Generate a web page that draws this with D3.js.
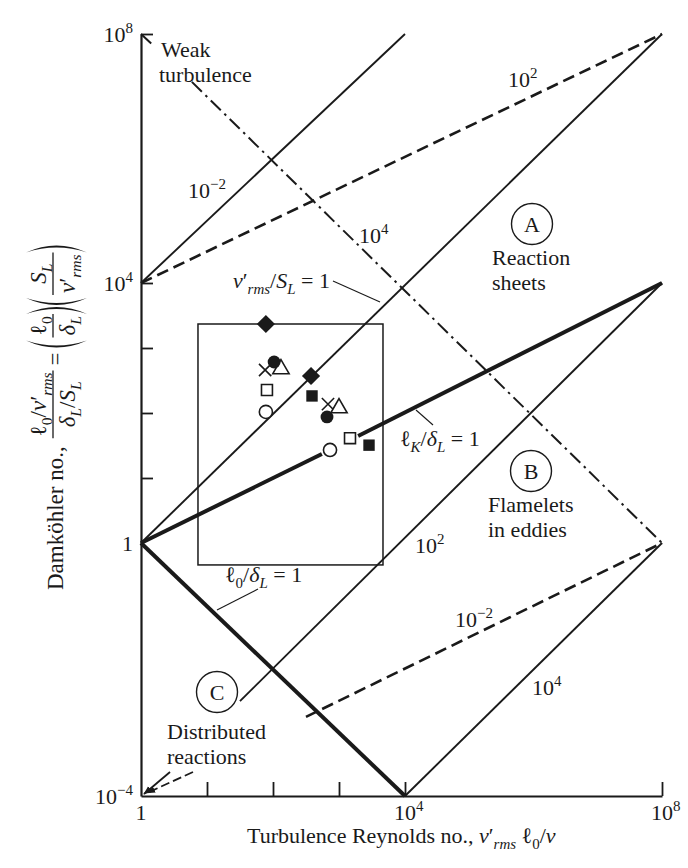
<!DOCTYPE html>
<html><head><meta charset="utf-8">
<script src="https://cdn.jsdelivr.net/npm/d3@7"></script>
<style>
html,body{margin:0;padding:0;background:#fff;}
svg{display:block;}
svg text{font-family:"Liberation Serif","DejaVu Serif","Times New Roman",serif;}
</style></head>
<body>
<svg id="chart" width="688" height="868"></svg>
<script>
// ---------------- DATA ----------------
// axis ticks and tick labels
const xTickValues = [10, 100, 1000, 1e4, 1e8];
const yTickValues = [10, 100, 1000, 1e4, 1e8];
const xLabelValues = [1, 1e4, 1e8];
const xLabelExps = ["", "4", "8"];
const yLabelValues = [1e-4, 1, 1e4, 1e8];
const yLabelExps = ["\u22124", "", "4", "8"];

// regime lines, endpoints as [Re, Da]
// thin solid: v'/SL = 1e-2, 1, 1e2, 1e4
const solidThinSegments = [
  [[1, 1e4], [1e4, 1e8]],
  [[1, 1], [1e8, 1e8]],
  [[31.6, 3.16e-3], [1e8, 1e4]],
  [[1e4, 1e-4], [1e8, 1]]
];
// thick solid: l0/dL = 1 and lK/dL = 1 (broken at the data points)
const thickSegments = [
  [[1, 1], [1e4, 1e-4]],
  [[1, 1], [550, 23.4]],
  [[1950, 44.2], [1e8, 1e4]]
];
// dashed: lK/dL = 1e2 and 1e-2
const dashedSegments = [
  [[1, 1e4], [1e8, 1e8]],
  [[316, 1.78e-3], [1e8, 1]]
];
// dash-dot: l0/dL = 1e4 (interrupted by the "Weak turbulence" label)
const dashDotSegments = [
  [[1, 1e8], [1.45, 6.9e7]],
  [[5.9, 1.7e7], [1e8, 1]]
];
// experimental range box
const boxRe = [7.3, 4640];
const boxDa = [0.45, 2340];

// experimental points
const markerRe = [78, 377, 76, 681, 132, 1000, 104, 658, 81, 1468, 78, 731, 390, 2850];
const markerDa = [2340, 371, 459, 137, 475, 119, 609, 87, 226, 41, 104, 27, 183, 32];
const markerShape = ["diamondFilled","diamondFilled","cross","cross","triangleOpen","triangleOpen",
  "circleFilled","circleFilled","squareOpen","squareOpen","circleOpen","circleOpen","squareFilled","squareFilled"];

// ---------------- CHART ----------------
const svg = d3.select("#chart")
  .style("font-family", "'Liberation Serif','Times New Roman',serif")
  .attr("fill", "#1a1a1a");

const x = d3.scaleLog().domain([1, 1e4, 1e8]).range([141, 405, 662]);
const y = d3.scaleLog().domain([1e-4, 1, 1e4, 1e8]).range([796, 543, 283, 34]);
const ink = "#1a1a1a";

function richText(parent, px, py, parts, size, anchor) {
  const t = parent.append("text").attr("x", px).attr("y", py)
    .attr("font-size", size).attr("text-anchor", anchor || "start").attr("fill", ink);
  let cur = 0;
  parts.forEach(p => {
    const shift = p.sub ? 0.26 * size : (p.sup ? -0.42 * size : 0);
    const ts = t.append("tspan").text(p.t).attr("dy", (shift - cur).toFixed(2));
    cur = shift;
    if (p.sub || p.sup) ts.attr("font-size", (size * 0.68).toFixed(1));
    if (p.it) ts.attr("font-style", "italic");
  });
  return t;
}
const N = t => ({t});
const I = t => ({t, it: true});
const SB = (t, it) => ({t, sub: true, it: !!it});
const SP = t => ({t, sup: true});

// box
svg.append("rect")
  .attr("x", x(boxRe[0])).attr("y", y(boxDa[1]))
  .attr("width", x(boxRe[1]) - x(boxRe[0])).attr("height", y(boxDa[0]) - y(boxDa[1]))
  .attr("fill", "none").attr("stroke", ink).attr("stroke-width", 1.5);

const line = d3.line().x(d => x(d[0])).y(d => y(d[1]));
function drawSegs(segs, width, dash) {
  svg.append("g").selectAll("path").data(segs).join("path")
    .attr("d", line).attr("fill", "none").attr("stroke", ink)
    .attr("stroke-width", width).attr("stroke-dasharray", dash || null);
}
drawSegs(solidThinSegments, 1.9);
drawSegs(thickSegments, 4);
drawSegs(dashedSegments, 2.6, "12,6");
drawSegs(dashDotSegments, 2, "14,5,2.5,5");

// axes
const gx = svg.append("g").attr("transform", `translate(0,${y(1e-4)})`)
  .call(d3.axisBottom(x).tickValues(xTickValues).tickSize(-14).tickSizeOuter(0).tickFormat(""));
const gy = svg.append("g").attr("transform", `translate(${x(1)},0)`)
  .call(d3.axisLeft(y).tickValues(yTickValues).tickSize(-12).tickSizeOuter(0).tickFormat(""));
[gx, gy].forEach(g => {
  g.select(".domain").attr("stroke", ink).attr("stroke-width", 2.2);
  g.selectAll(".tick line").attr("stroke", ink).attr("stroke-width", 1.8);
});

// tick labels
xLabelValues.forEach((v, i) => {
  const parts = xLabelExps[i] ? [N("10"), SP(xLabelExps[i])] : [N("1")];
  const half = xLabelExps[i] ? 11 : 0;
  richText(svg, x(v) - half, 820, parts, 22, xLabelExps[i] ? "start" : "middle");
});
yLabelValues.forEach((v, i) => {
  const parts = yLabelExps[i] ? [N("10"), SP(yLabelExps[i])] : [N("1")];
  richText(svg, 133, y(v) + 8, parts, 22, "end");
});

// x axis title
richText(svg, 247, 843, [N("Turbulence Reynolds no., "), I("v"), N("\u2032"), SB("rms", true),
  N(" \u2113"), SB("0"), N("/"), I("\u03bd")], 22, "start");

// y axis title (rotated)
const gl = svg.append("g").attr("transform", "translate(63,590) rotate(-90)");
const YS = 23;
let cx = 0;
const t1 = richText(gl, 0, 0, [N("Damk\u00f6hler no.,")], YS, "start");
cx += t1.node().getComputedTextLength() + 8;
function frac(numParts, denParts) {
  const n = richText(gl, 0, -17, numParts, YS, "middle");
  const d = richText(gl, 0, 12, denParts, YS, "middle");
  const w = Math.max(n.node().getComputedTextLength(), d.node().getComputedTextLength()) + 4;
  n.attr("x", cx + w / 2); d.attr("x", cx + w / 2);
  gl.append("line").attr("x1", cx).attr("x2", cx + w).attr("y1", -10).attr("y2", -10)
    .attr("stroke", ink).attr("stroke-width", 1.3);
  cx += w;
}
function paren(open) {
  const top = -37, bot = 24, mid = (top + bot) / 2, w = 7;
  const ex = open ? cx + w : cx, c1 = open ? cx - w : cx + 2 * w, c2 = open ? cx - w + 4 : cx + 2 * w - 4;
  gl.append("path").attr("d", `M${ex},${top}Q${c1},${mid} ${ex},${bot}Q${c2},${mid} ${ex},${top}Z`)
    .attr("fill", ink);
  cx += open ? w + 3 : w + 2;
}
frac([N("\u2113"), SB("0"), N("/"), I("v"), N("\u2032"), SB("rms", true)],
     [I("\u03b4"), SB("L", true), N("/"), I("S"), SB("L", true)]);
cx += 5;
const teq = richText(gl, cx, 0, [N("=")], YS, "start");
cx += teq.node().getComputedTextLength() + 5;
paren(true);
frac([N("\u2113"), SB("0")], [I("\u03b4"), SB("L", true)]);
paren(false);
paren(true);
frac([I("S"), SB("L", true)], [I("v"), N("\u2032"), SB("rms", true)]);
paren(false);

// experimental markers
const shapeDef = {
  diamondFilled: {type: d3.symbolSquare, size: 165, fill: ink, rot: 45},
  circleFilled: {type: d3.symbolCircle, size: 130, fill: ink},
  circleOpen: {type: d3.symbolCircle, size: 135, fill: "#fff", stroke: true},
  squareFilled: {type: d3.symbolSquare, size: 130, fill: ink},
  squareOpen: {type: d3.symbolSquare, size: 120, fill: "#fff", stroke: true},
  triangleOpen: {type: d3.symbolTriangle, size: 115, fill: "#fff", stroke: true},
  cross: {type: d3.symbolTimes || d3.symbolCross, size: 100, fill: "none", stroke: true}
};
svg.append("g").selectAll("path").data(markerRe.map((r, i) => i)).join("path")
  .attr("transform", i => `translate(${x(markerRe[i])},${y(markerDa[i])}) rotate(${shapeDef[markerShape[i]].rot || 0})`)
  .attr("d", i => d3.symbol(shapeDef[markerShape[i]].type, shapeDef[markerShape[i]].size)())
  .attr("fill", i => shapeDef[markerShape[i]].fill)
  .attr("stroke", i => shapeDef[markerShape[i]].stroke ? ink : "none")
  .attr("stroke-width", 1.6);

// parameter labels on lines
const lineLabels = [[188, 198, "\u22122"], [508, 87, "2"], [359, 243, "4"],
                    [415, 553, "2"], [455, 627, "\u22122"], [532, 695, "4"]];
lineLabels.forEach(l => richText(svg, l[0], l[1], [N("10"), SP(l[2])], 22, "start"));

// named lines with leaders
function leader(x1, y1, x2, y2) {
  svg.append("line").attr("x1", x1).attr("y1", y1).attr("x2", x2).attr("y2", y2)
    .attr("stroke", ink).attr("stroke-width", 1.1);
}
richText(svg, 330, 288, [I("v"), N("\u2032"), SB("rms", true), N("/"), I("S"), SB("L", true), N(" = 1")], 22, "end");
leader(333, 281, 380, 302);
richText(svg, 400, 446, [N("\u2113"), SB("K", true), N("/"), I("\u03b4"), SB("L", true), N(" = 1")], 22, "start");
leader(416, 410, 433, 425);
richText(svg, 225, 582, [N("\u2113"), SB("0"), N("/"), I("\u03b4"), SB("L", true), N(" = 1")], 22, "start");
leader(217, 610, 258, 589);

// regime labels
function circLabel(cxp, cyp, letter) {
  svg.append("circle").attr("cx", cxp).attr("cy", cyp).attr("r", 20.5)
    .attr("fill", "none").attr("stroke", ink).attr("stroke-width", 1.4);
  svg.append("text").attr("x", cxp).attr("y", cyp + 8).attr("text-anchor", "middle")
    .attr("font-size", 22).attr("fill", ink).text(letter);
}
circLabel(532, 224, "A");
circLabel(531, 471, "B");
circLabel(217, 692, "C");
const plain = (t, px, py) => svg.append("text").attr("x", px).attr("y", py)
  .attr("font-size", 22).attr("fill", ink).text(t);
plain("Weak", 161, 57); plain("turbulence", 159, 82);
plain("Reaction", 492, 265); plain("sheets", 492, 290);
plain("Flamelets", 488, 512); plain("in eddies", 488, 537);
plain("Distributed", 167, 739); plain("reactions", 167, 764);

// arrows into the corner for distributed reactions
const defs = svg.append("defs");
defs.append("marker").attr("id", "ah").attr("viewBox", "0 0 10 10").attr("refX", 9).attr("refY", 5)
  .attr("markerWidth", 9).attr("markerHeight", 9).attr("markerUnits", "userSpaceOnUse")
  .attr("orient", "auto").append("path").attr("d", "M0,1.5L10,5L0,8.5Z").attr("fill", ink);
svg.append("line").attr("x1", 170).attr("y1", 772).attr("x2", 144).attr("y2", 794)
  .attr("stroke", ink).attr("stroke-width", 1.8).attr("marker-end", "url(#ah)");
svg.append("line").attr("x1", 193).attr("y1", 772).attr("x2", 147).attr("y2", 793)
  .attr("stroke", ink).attr("stroke-width", 1.8).attr("stroke-dasharray", "9,4").attr("marker-end", "url(#ah)");
</script>
</body></html>
